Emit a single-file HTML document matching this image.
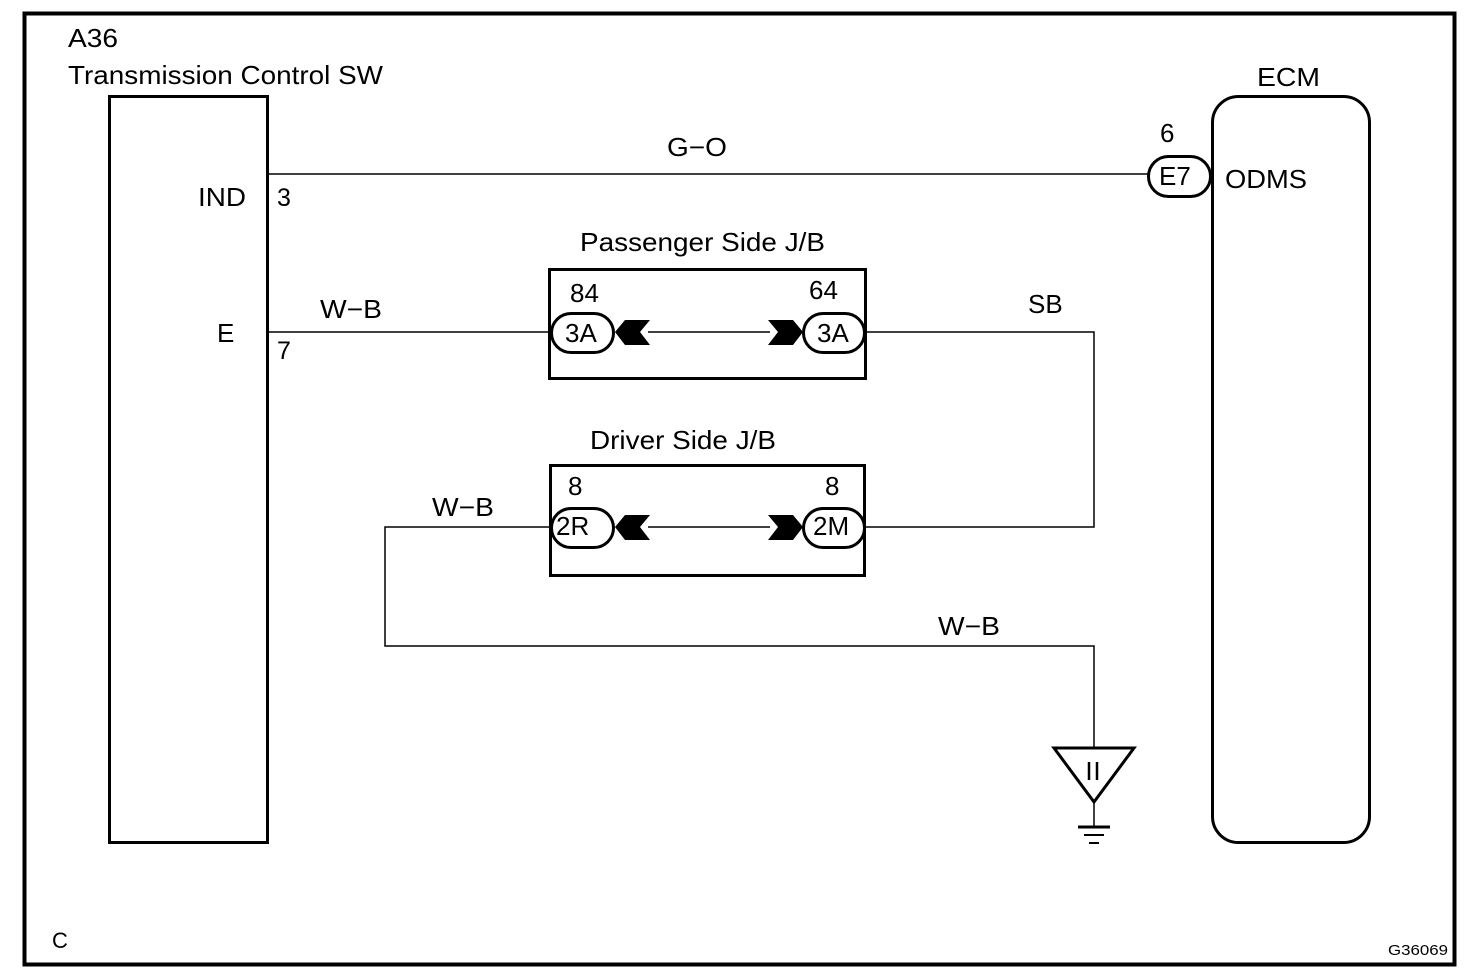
<!DOCTYPE html>
<html><head><style>
html,body{margin:0;padding:0;background:#fff}
svg{display:block}
text{font-family:"Liberation Sans",Arial,sans-serif;fill:#000}
</style></head><body>
<svg width="1472" height="978" viewBox="0 0 1472 978" xmlns="http://www.w3.org/2000/svg">
<rect x="24.5" y="13.5" width="1430" height="951" fill="none" stroke="#000" stroke-width="4"/>
<text x="68" y="47" font-size="26" textLength="50" lengthAdjust="spacingAndGlyphs">A36</text>
<text x="68" y="84" font-size="26" textLength="315" lengthAdjust="spacingAndGlyphs">Transmission Control SW</text>
<rect x="109.5" y="96.5" width="158" height="746" fill="none" stroke="#000" stroke-width="3"/>
<text x="198" y="206" font-size="26" textLength="48" lengthAdjust="spacingAndGlyphs">IND</text>
<text x="277" y="206" font-size="25">3</text>
<text x="217" y="342" font-size="26">E</text>
<text x="277" y="359" font-size="25">7</text>
<text x="1257" y="86" font-size="26" textLength="63" lengthAdjust="spacingAndGlyphs">ECM</text>
<rect x="1212.5" y="96.5" width="157" height="746" rx="26" fill="none" stroke="#000" stroke-width="3"/>
<text x="1225" y="188" font-size="26" textLength="82" lengthAdjust="spacingAndGlyphs">ODMS</text>
<text x="1160" y="142" font-size="26">6</text>
<g fill="none" stroke="#000" stroke-width="1.5">
<line x1="267" y1="174" x2="1149" y2="174"/>
<line x1="267" y1="332" x2="551" y2="332"/>
<line x1="648" y1="332" x2="770" y2="332"/>
<line x1="648" y1="527" x2="770" y2="527"/>
<polyline points="864,332 1094,332 1094,527 864,527"/>
<polyline points="551,527 385,527 385,646 1094,646 1094,748"/>
<line x1="1094" y1="803" x2="1094" y2="826"/>
</g>
<rect x="1148.5" y="156.5" width="62" height="40" rx="20" fill="#fff" stroke="#000" stroke-width="3"/>
<text x="1159" y="185" font-size="26">E7</text>
<text x="667" y="156" font-size="26" textLength="60" lengthAdjust="spacingAndGlyphs">G&#8722;O</text>
<text x="580" y="251" font-size="26" textLength="245" lengthAdjust="spacingAndGlyphs">Passenger Side J/B</text>
<rect x="549.5" y="269.5" width="316" height="109" fill="none" stroke="#000" stroke-width="3"/>
<text x="570" y="302" font-size="26">84</text>
<text x="809" y="299" font-size="26">64</text>
<rect x="551.5" y="313.5" width="62" height="39" rx="19.5" fill="#fff" stroke="#000" stroke-width="3"/>
<text x="565" y="342" font-size="26">3A</text>
<rect x="803.5" y="313.5" width="61" height="39" rx="19.5" fill="#fff" stroke="#000" stroke-width="3"/>
<text x="817" y="342" font-size="26">3A</text>
<polygon points="615,332 625,320 650,320 640,332 650,345 625,345" fill="#000"/>
<polygon points="803,332 793,320 768,320 778,332 768,345 793,345" fill="#000"/>
<text x="320" y="318" font-size="26" textLength="62" lengthAdjust="spacingAndGlyphs">W&#8722;B</text>
<text x="1028" y="313" font-size="26">SB</text>
<text x="590" y="449" font-size="26" textLength="186" lengthAdjust="spacingAndGlyphs">Driver Side J/B</text>
<rect x="550.5" y="465.5" width="314" height="110" fill="none" stroke="#000" stroke-width="3"/>
<text x="568" y="495" font-size="26">8</text>
<text x="825" y="495" font-size="26">8</text>
<rect x="551.5" y="508.5" width="62" height="39" rx="19.5" fill="#fff" stroke="#000" stroke-width="3"/>
<text x="556" y="535" font-size="26">2R</text>
<rect x="803.5" y="508.5" width="61" height="39" rx="19.5" fill="#fff" stroke="#000" stroke-width="3"/>
<text x="813" y="535" font-size="26">2M</text>
<polygon points="615,527 625,515 650,515 640,527 650,540 625,540" fill="#000"/>
<polygon points="803,527 793,515 768,515 778,527 768,540 793,540" fill="#000"/>
<text x="432" y="516" font-size="26" textLength="62" lengthAdjust="spacingAndGlyphs">W&#8722;B</text>
<text x="938" y="635" font-size="26" textLength="62" lengthAdjust="spacingAndGlyphs">W&#8722;B</text>
<polygon points="1054,748 1134,748 1094,802" fill="none" stroke="#000" stroke-width="3"/>
<line x1="1089" y1="762" x2="1089" y2="780" stroke="#000" stroke-width="2.5"/>
<line x1="1097" y1="762" x2="1097" y2="780" stroke="#000" stroke-width="2.5"/>
<line x1="1078" y1="827" x2="1110" y2="827" stroke="#000" stroke-width="3"/>
<line x1="1084" y1="835" x2="1104" y2="835" stroke="#000" stroke-width="2"/>
<line x1="1089" y1="843" x2="1099" y2="843" stroke="#000" stroke-width="2"/>
<text x="52" y="948" font-size="22">C</text>
<text x="1388" y="955" font-size="15" textLength="60" lengthAdjust="spacingAndGlyphs">G36069</text>
</svg>
</body></html>
